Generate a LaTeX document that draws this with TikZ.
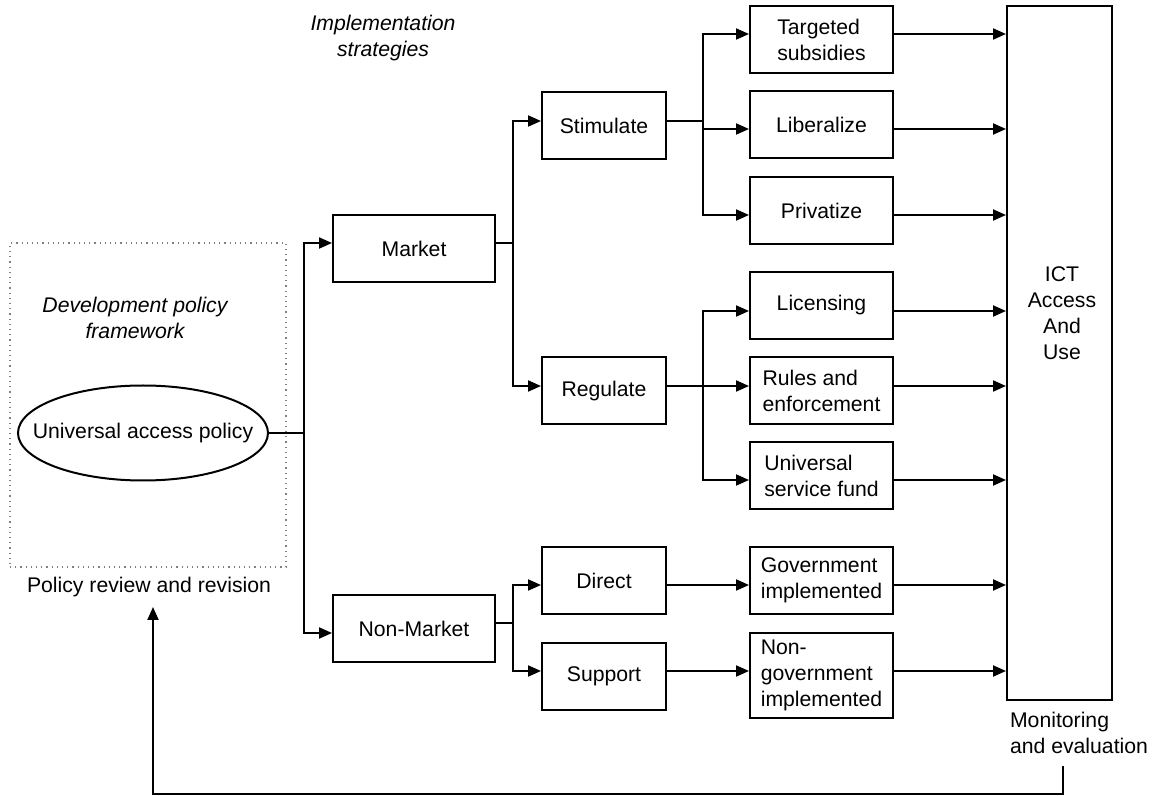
\documentclass[tikz,border=0pt]{standalone}
\usepackage{fontspec}
\setmainfont{Liberation Sans}
\usetikzlibrary{arrows.meta,shapes.geometric,calc}
\begin{document}
\begin{tikzpicture}[x=0.5pt,y=-0.5pt,
  every node/.style={font=\fontsize{10.6}{13}\selectfont},
  it/.style={font=\fontsize{10.6}{13}\selectfont\itshape},
  box/.style={draw,line width=1pt,minimum height=33.5pt,inner sep=0pt,align=center},
  bm/.style={box,minimum width=81pt},
  bs/.style={box,minimum width=62pt},
  bt/.style={box,minimum width=71.5pt},
  btl/.style={bt,align=left},
  ln/.style={line width=1pt},
  arr/.style={line width=1pt,-{Triangle[length=6.5pt,width=5.5pt]}},
]
\useasboundingbox (0,0) rectangle (1152,796);

% left frame
\node[draw=gray,dotted,line width=0.6pt,minimum width=138pt,minimum height=162pt,inner sep=0pt] (frame) at (148,405) {};
\node[it,align=center] (devfw) at (135,318) {Development policy\\framework};
\node[minimum width=125pt,minimum height=47.5pt,inner sep=0pt] (uap) at (143,433) {Universal access policy};
\draw[ln] (uap.center) ellipse (62.5pt and 23.75pt);
\node (review) at (149,587) {Policy review and revision};
\node[it,align=center] (impl) at (383,38) {Implementation\\strategies};

% level 1
\node[bm] (market) at (414,248.5) {Market};
\node[bm] (nonmarket) at (414,628.5) {Non-Market};

% level 2
\node[bs] (stim) at (604,125.5) {Stimulate};
\node[bs] (reg) at (604,391) {Regulate};
\node[bs] (direct) at (604,580.5) {Direct};
\node[bs] (support) at (604,676) {Support};

% level 3
\node[btl] (tgt) at (821.5,39.5) {Targeted\\subsidies};
\node[bt] (lib) at (821.5,125) {Liberalize};
\node[bt] (pri) at (821.5,210.5) {Privatize};
\node[bt] (lic) at (821.5,305.5) {Licensing};
\node[btl] (rul) at (821.5,391) {Rules and\\enforcement};
\node[btl] (usf) at (821.5,476) {Universal\\service fund};
\node[btl] (gov) at (821.5,580.5) {Government\\implemented};
\node[btl,minimum height=42.5pt] (ngov) at (821.5,675.5) {Non-\\government\\implemented};

% ICT
\node[draw,line width=1pt,minimum width=52.5pt,minimum height=347pt,inner sep=0pt] (ict) at (1059.5,353) {};
\node[align=center] (ictlab) at (1062,313) {ICT\\Access\\And\\Use};
\node[align=left,anchor=west] (monitor) at (1003,733) {Monitoring\\and evaluation};

% junction x positions
\coordinate (x1) at (304,0);
\coordinate (x2) at (513,0);
\coordinate (x3) at (703,0);

% policy -> market / non-market
\coordinate (po) at (uap.east -| x1);
\draw[ln] (uap.east) -- (po);
\draw[arr] (po) |- ([yshift=2.75pt]market.west);
\draw[arr] (po) |- ([yshift=-2.25pt]nonmarket.west);

% market -> stimulate / regulate
\coordinate (mo) at ([yshift=2.75pt]market.east);
\coordinate (mj) at (mo -| x2);
\draw[ln] (mo) -- (mj);
\draw[arr] (mj) |- ([yshift=2.25pt]stim.west);
\draw[arr] (mj) |- ([yshift=2.5pt]reg.west);

% non-market -> direct / support
\coordinate (no) at ([yshift=2.75pt]nonmarket.east);
\coordinate (nj) at (no -| x2);
\draw[ln] (no) -- (nj);
\draw[arr] (nj) |- ([yshift=-2.25pt]direct.west);
\draw[arr] (nj) |- ([yshift=2.5pt]support.west);

% stimulate -> three
\coordinate (so) at ([yshift=2.25pt]stim.east);
\coordinate (sj) at (so -| x3);
\draw[ln] (so) -- (sj);
\draw[arr] (sj) |- ([yshift=2.75pt]tgt.west);
\draw[arr] (sj) |- ([yshift=-2pt]lib.west);
\draw[arr] (sj) |- ([yshift=-2.25pt]pri.west);

% regulate -> three
\coordinate (ro) at ([yshift=2.5pt]reg.east);
\coordinate (rj) at (ro -| x3);
\draw[ln] (ro) -- (rj);
\draw[arr] (rj) |- ([yshift=-2.75pt]lic.west);
\draw[arr] (ro) -- ([yshift=2.5pt]rul.west);
\draw[arr] (rj) |- ([yshift=-2pt]usf.west);

% direct / support
\draw[arr] ([yshift=-2.25pt]direct.east) -- ([yshift=-2.25pt]gov.west);
\draw[arr] ([yshift=2.5pt]support.east) -- ([yshift=2.25pt]ngov.west);

% level 3 -> ICT
\coordinate (o1) at ([yshift=2.75pt]tgt.east);
\coordinate (o2) at ([yshift=-2pt]lib.east);
\coordinate (o3) at ([yshift=-2.25pt]pri.east);
\coordinate (o4) at ([yshift=-2.75pt]lic.east);
\coordinate (o5) at ([yshift=2.5pt]rul.east);
\coordinate (o6) at ([yshift=-2pt]usf.east);
\coordinate (o7) at ([yshift=-2.25pt]gov.east);
\coordinate (o8) at ([yshift=2.25pt]ngov.east);
\foreach \o in {o1,o2,o3,o4,o5,o6,o7,o8}
  \draw[arr] (\o) -- (\o -| ict.west);

% feedback loop
\coordinate (fa) at (1063,766);
\coordinate (fc) at (1063,794);
\coordinate (fb) at (153,607);
\draw[arr] (fa) -- (fc) -| (fb);
\end{tikzpicture}
\end{document}
